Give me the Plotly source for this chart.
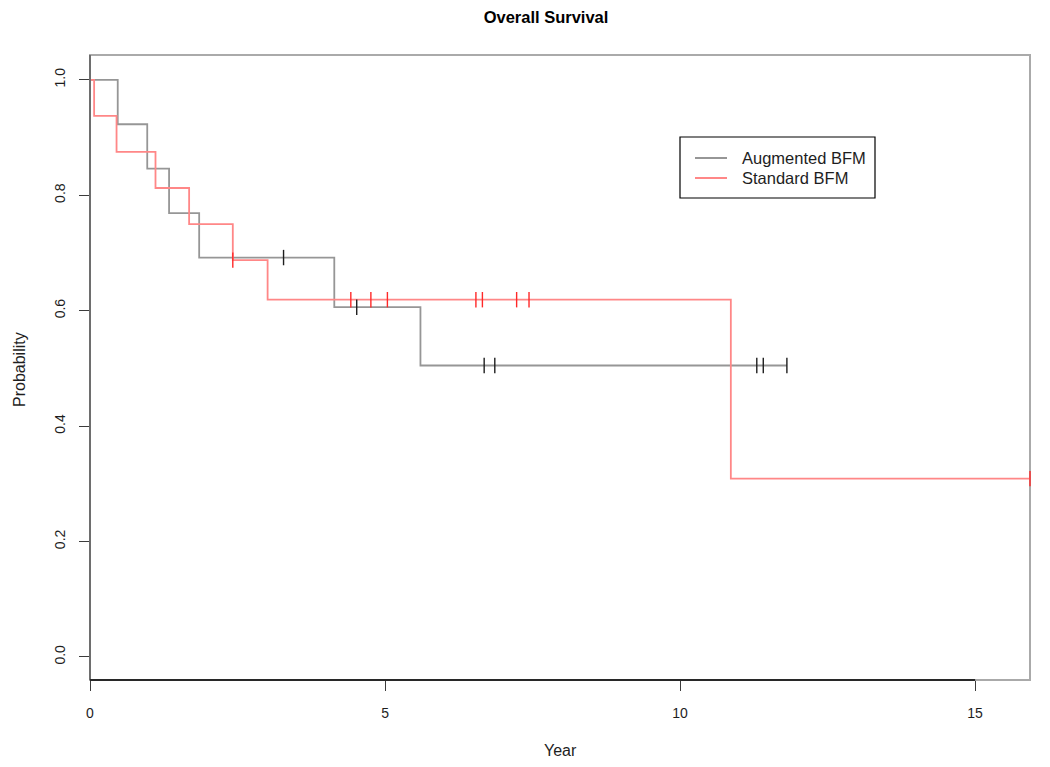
import plotly.graph_objects as go

# Augmented BFM (Kaplan-Meier steps)
aug_times = [0, 0.47, 0.97, 1.34, 1.85, 4.14, 5.60, 11.81]
aug_surv = [1.0, 0.923, 0.846, 0.769, 0.692, 0.606, 0.505, 0.505]
aug_cens_t = [3.28, 4.52, 6.68, 6.86, 11.30, 11.41, 11.81]
aug_cens_s = [0.692, 0.606, 0.505, 0.505, 0.505, 0.505, 0.505]

# Standard BFM
std_times = [0, 0.07, 0.45, 1.11, 1.68, 2.42, 3.01, 10.86, 15.93]
std_surv = [1.0, 0.9375, 0.875, 0.8125, 0.75, 0.6875, 0.619, 0.309, 0.309]
std_cens_t = [2.42, 4.42, 4.76, 5.04, 6.54, 6.65, 7.23, 7.44, 15.93]
std_cens_s = [0.6875, 0.619, 0.619, 0.619, 0.619, 0.619, 0.619, 0.619, 0.309]

series_names = ["Augmented BFM", "Standard BFM"]

x_ticks = [0, 5, 10, 15]
y_ticks = [0.0, 0.2, 0.4, 0.6, 0.8, 1.0]
y_tick_labels = ["0.0", "0.2", "0.4", "0.6", "0.8", "1.0"]

FONT = "Liberation Sans, Arial, Helvetica, sans-serif"
GRAY = "rgb(150,150,150)"
RED = "rgb(255,135,135)"
TXT = "rgb(30,30,30)"

# page-pixel helpers (plot region on page: x 90..1030, y 55..680)
def px(x):
    return (x - 90) / 940

def py(y):
    return (680 - y) / 625

fig = go.Figure()
fig.add_trace(go.Scatter(x=aug_times, y=aug_surv, mode="lines", line_shape="hv",
                         line=dict(color=GRAY, width=1.8), name=series_names[0],
                         showlegend=False))
fig.add_trace(go.Scatter(x=std_times, y=std_surv, mode="lines", line_shape="hv",
                         line=dict(color=RED, width=1.8), name=series_names[1],
                         showlegend=False))
fig.add_trace(go.Scatter(x=aug_cens_t, y=aug_cens_s, mode="markers", showlegend=False,
                         marker=dict(symbol="line-ns", size=11,
                                     line=dict(color="rgb(30,30,30)", width=1.4)),
                         cliponaxis=False))
fig.add_trace(go.Scatter(x=std_cens_t, y=std_cens_s, mode="markers", showlegend=False,
                         marker=dict(symbol="line-ns", size=11,
                                     line=dict(color="rgb(255,40,40)", width=1.4)),
                         cliponaxis=False))

shapes = [
    # box
    dict(type="rect", xref="paper", yref="paper", x0=0, x1=1, y0=0, y1=1,
         line=dict(color="rgb(170,170,170)", width=2), layer="below"),
    # left axis line
    dict(type="line", xref="paper", yref="paper", x0=0, x1=0, y0=0, y1=1,
         line=dict(color="rgb(110,110,110)", width=2)),
    # bottom axis line from first to last tick
    dict(type="line", xref="x", yref="paper", x0=x_ticks[0], x1=x_ticks[-1], y0=0, y1=0,
         line=dict(color="rgb(40,40,40)", width=2)),
    # legend box
    dict(type="rect", xref="paper", yref="paper", x0=px(680), x1=px(875), y0=py(198), y1=py(137),
         line=dict(color="black", width=1.2), fillcolor="white"),
    dict(type="line", xref="paper", yref="paper", x0=px(695), x1=px(727), y0=py(158), y1=py(158),
         line=dict(color=GRAY, width=2)),
    dict(type="line", xref="paper", yref="paper", x0=px(695), x1=px(727), y0=py(178), y1=py(178),
         line=dict(color=RED, width=2)),
]

annotations = [
    dict(text=series_names[0], xref="paper", yref="paper", x=px(740), y=py(158),
         xanchor="left", yanchor="middle", showarrow=False, font=dict(size=16.5, color=TXT)),
    dict(text=series_names[1], xref="paper", yref="paper", x=px(740), y=py(178),
         xanchor="left", yanchor="middle", showarrow=False, font=dict(size=16.5, color=TXT)),
    dict(text="Year", xref="paper", yref="paper", x=px(560), y=py(750),
         showarrow=False, xanchor="center", yanchor="middle", font=dict(size=16, color=TXT)),
    dict(text="Probability", xref="paper", yref="paper", x=px(19), y=py(370),
         showarrow=False, textangle=-90, xanchor="center", yanchor="middle",
         font=dict(size=16, color=TXT)),
]

fig.update_layout(
    width=1042, height=759,
    margin=dict(l=82, r=20, t=47, b=87),
    plot_bgcolor="white", paper_bgcolor="white",
    font=dict(family=FONT, size=13, color="black"),
    showlegend=False,
    title=dict(text="<b>Overall Survival</b>", x=(546 - 8) / 1042, xanchor="center",
               y=1 - (17 - 8) / 759, yanchor="middle", font=dict(size=16.5, family=FONT)),
    xaxis=dict(range=[0, 15.93], tickvals=x_ticks, ticks="outside", ticklen=10,
               tickcolor="rgb(60,60,60)", showgrid=False, zeroline=False, showline=False,
               ticklabelstandoff=10, tickfont=dict(size=14, color=TXT)),
    yaxis=dict(range=[-0.04, 1.043], tickvals=y_ticks, ticktext=y_tick_labels,
               ticks="outside", ticklen=10, tickcolor="rgb(60,60,60)", tickangle=-90,
               showgrid=False, zeroline=False, showline=False, ticklabelstandoff=8,
               tickfont=dict(size=14, color=TXT)),
    shapes=shapes,
    annotations=annotations,
)

fig.write_html("out.html")
